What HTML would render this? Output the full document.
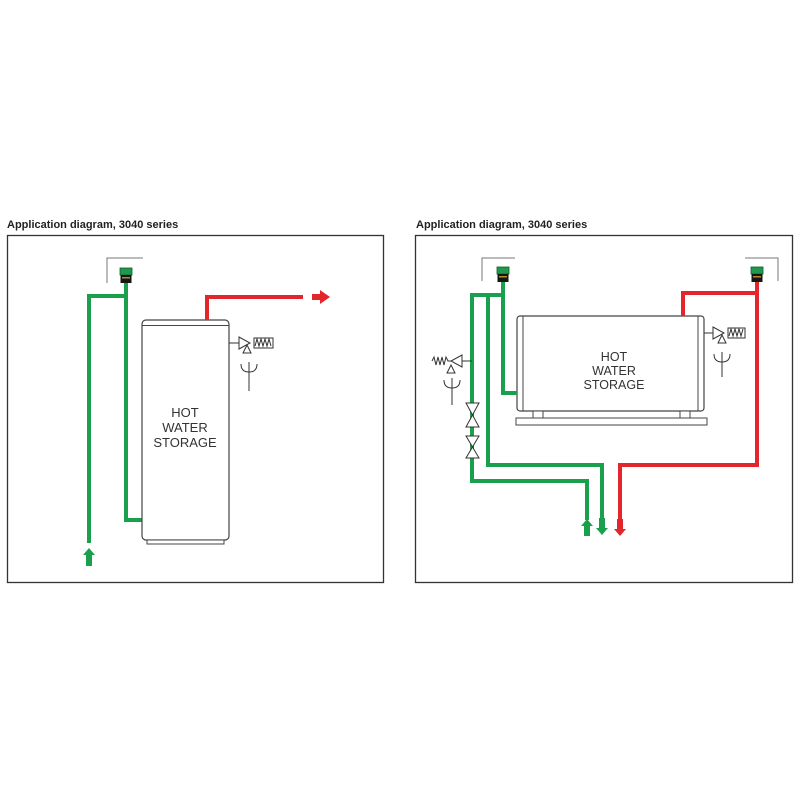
<!DOCTYPE html>
<html><head><meta charset="utf-8"><style>
html,body{margin:0;padding:0;background:#fff;}
svg{display:block;}
text{font-family:"Liberation Sans",sans-serif;}
</style></head><body>
<svg width="800" height="800" viewBox="0 0 800 800" xmlns="http://www.w3.org/2000/svg">
<defs>
 <g id="vent">
  <rect x="0" y="0" width="12" height="7" fill="#1f9a4c" stroke="#0d5c2a" stroke-width="0.8"/>
  <rect x="0.5" y="7" width="11" height="8" fill="#151515"/>
  <rect x="2" y="9" width="8" height="1.5" fill="#b58a2a"/>
 </g>
</defs>
<!-- LEFT PANEL -->
<text x="7" y="228" font-size="11" font-weight="bold" fill="#222">Application diagram, 3040 series</text>
<rect x="7.5" y="235.5" width="376" height="347" fill="none" stroke="#333" stroke-width="1.3"/>
<polyline points="107,283 107,258 143,258" fill="none" stroke="#777" stroke-width="1"/>
<use href="#vent" x="120" y="268"/>
<g fill="none" stroke="#1aa04c" stroke-width="4">
 <polyline points="126,283 126,520 142,520"/>
 <polyline points="126,296 89,296 89,543"/>
</g>
<polygon points="89,548 95,555 92,555 92,566 86,566 86,555 83,555" fill="#1aa04c"/>
<!-- tank -->
<rect x="142" y="320" width="87" height="220" rx="4" fill="#fff" stroke="#444" stroke-width="1.2"/>
<line x1="142" y1="325.5" x2="229" y2="325.5" stroke="#444" stroke-width="1"/>
<rect x="147" y="540" width="77" height="4" fill="#fff" stroke="#444" stroke-width="1"/>
<polyline points="207,320 207,297 303,297" fill="none" stroke="#e3262b" stroke-width="4"/>
<polygon points="312,294 320,294 320,290 330,297 320,304 320,300 312,300" fill="#e3262b"/>
<g fill="none" stroke="#333" stroke-width="1">
 <line x1="229" y1="343" x2="239" y2="343"/>
 <polygon points="239,337 239,349 250,343" fill="#fff"/>
 <polygon points="243,353 251,353 247,345" fill="#fff"/>
 <rect x="254" y="338" width="19" height="10"/>
 <polyline points="255,346 257,339 259,346 261,339 263,346 265,339 267,346 269,339 271,346"/>
 <path d="M241,364 Q241,372 249,372 Q257,372 257,364"/>
 <line x1="249" y1="362" x2="249" y2="391"/>
</g>
<text font-size="13" fill="#333" text-anchor="middle"><tspan x="185" y="417">HOT</tspan><tspan x="185" y="432">WATER</tspan><tspan x="185" y="447">STORAGE</tspan></text>

<!-- RIGHT PANEL -->
<text x="416" y="228" font-size="11" font-weight="bold" fill="#222">Application diagram, 3040 series</text>
<rect x="415.5" y="235.5" width="377" height="347" fill="none" stroke="#333" stroke-width="1.3"/>
<polyline points="482,281 482,258 515,258" fill="none" stroke="#777" stroke-width="1"/>
<polyline points="745,258 778,258 778,281" fill="none" stroke="#777" stroke-width="1"/>
<use href="#vent" x="497" y="267"/>
<use href="#vent" x="751" y="267"/>
<!-- tank -->
<rect x="517" y="316" width="187" height="95" rx="3" fill="#fff" stroke="#444" stroke-width="1.2"/>
<line x1="523" y1="316" x2="523" y2="411" stroke="#444" stroke-width="1"/>
<line x1="698" y1="316" x2="698" y2="411" stroke="#444" stroke-width="1"/>
<rect x="533" y="411" width="10" height="7" fill="#fff" stroke="#444" stroke-width="1"/>
<rect x="680" y="411" width="10" height="7" fill="#fff" stroke="#444" stroke-width="1"/>
<rect x="516" y="418" width="191" height="7" fill="#fff" stroke="#444" stroke-width="1"/>
<text font-size="12.5" fill="#333" text-anchor="middle"><tspan x="614" y="361">HOT</tspan><tspan x="614" y="375">WATER</tspan><tspan x="614" y="389">STORAGE</tspan></text>
<g fill="none" stroke="#1aa04c" stroke-width="4">
 <polyline points="503,282 503,393 517,393"/>
 <polyline points="503,295 472,295 472,481 587,481 587,520"/>
 <polyline points="488,295 488,465 602,465 602,520"/>
</g>
<g fill="none" stroke="#e3262b" stroke-width="4">
 <polyline points="757,282 757,465 620,465 620,522"/>
 <polyline points="757,293 683,293 683,316"/>
</g>
<!-- bowtie valves -->
<g fill="#fff" stroke="#333" stroke-width="1">
 <polygon points="466,403 479,403 466,427 479,427"/>
 <polygon points="466,436 479,436 466,458 479,458"/>
</g>
<!-- arrows -->
<polygon points="587,519 593,526 590,526 590,536 584,536 584,526 581,526" fill="#1aa04c"/>
<polygon points="602,535 608,528 605,528 605,518 599,518 599,528 596,528" fill="#1aa04c"/>
<polygon points="620,536 626,529 623,529 623,519 617,519 617,529 614,529" fill="#e3262b"/>
<!-- left relief -->
<g fill="none" stroke="#333" stroke-width="1">
 <line x1="472" y1="361" x2="462" y2="361"/>
 <polygon points="462,355 462,367 451,361" fill="#fff"/>
 <polygon points="447,373 455,373 451,365" fill="#fff"/>
 <polyline points="432,361 434,357 436,365 438,357 440,365 442,357 444,365 446,357 448,361 451,361"/>
 <path d="M444,380 Q444,388 452,388 Q460,388 460,380"/>
 <line x1="452" y1="378" x2="452" y2="405"/>
</g>
<!-- right relief -->
<g fill="none" stroke="#333" stroke-width="1">
 <line x1="704" y1="333" x2="713" y2="333"/>
 <polygon points="713,327 713,339 724,333" fill="#fff"/>
 <polygon points="718,343 726,343 722,335" fill="#fff"/>
 <rect x="728" y="328" width="17" height="10"/>
 <polyline points="729,336 731,329 733,336 735,329 737,336 739,329 741,336 743,329"/>
 <path d="M714,354 Q714,362 722,362 Q730,362 730,354"/>
 <line x1="722" y1="352" x2="722" y2="377"/>
</g>
</svg>
</body></html>
